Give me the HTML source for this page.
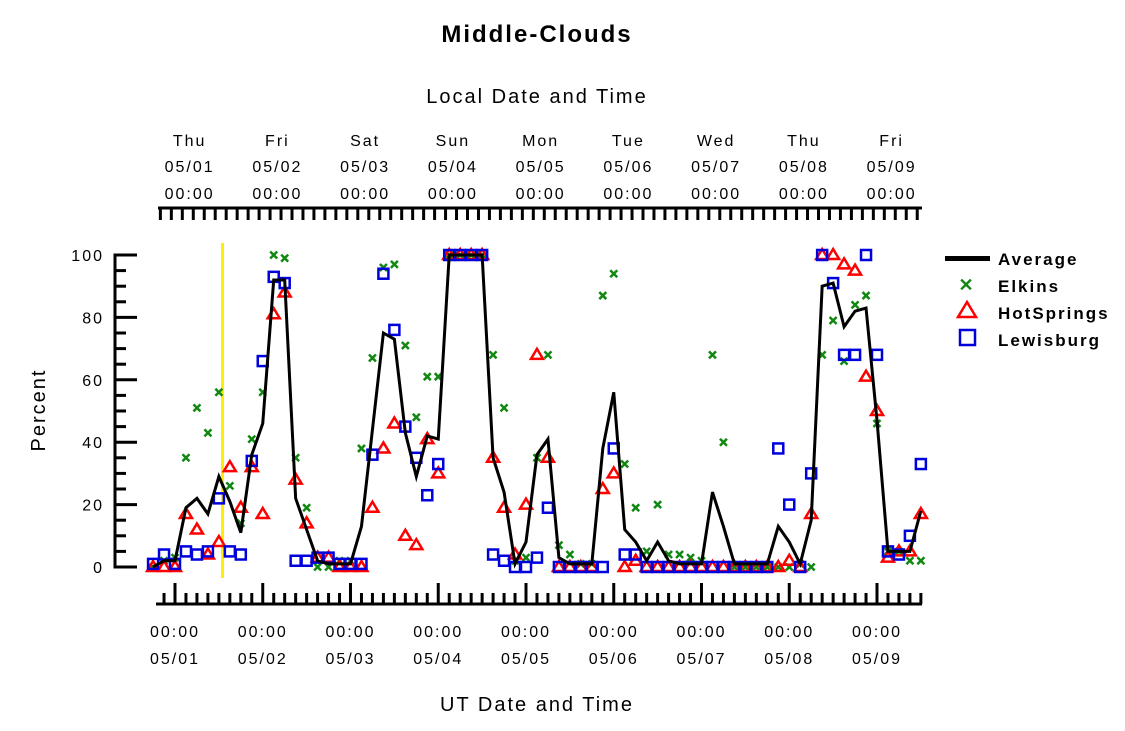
<!DOCTYPE html>
<html><head><meta charset="utf-8"><style>
body{margin:0;background:#fff;}
svg{display:block;font-family:"Liberation Sans",sans-serif;}
</style></head><body>
<svg id="chart" width="1125" height="731" viewBox="0 0 1125 731" xmlns="http://www.w3.org/2000/svg">
<text x="537" y="42" text-anchor="middle" font-size="24" font-weight="bold" letter-spacing="2">Middle-Clouds</text>
<text x="537" y="103" text-anchor="middle" font-size="20" letter-spacing="2">Local Date and Time</text>
<text x="537" y="711" text-anchor="middle" font-size="20" letter-spacing="2">UT Date and Time</text>
<text x="0" y="0" transform="translate(45,410) rotate(-90)" text-anchor="middle" font-size="20" letter-spacing="2">Percent</text>
<g id="axes"></g>
<g id="marks"></g>
<g font-size="17" font-weight="bold" letter-spacing="2">
<rect x="945" y="256" width="45" height="5" fill="#000"/>
<text x="998" y="265">Average</text>
<text x="967" y="291" text-anchor="middle" fill="#118811" font-size="18">✕</text>
<text x="998" y="292">Elkins</text>
<polygon points="967,302 976,317 958,317" fill="none" stroke="#ff0000" stroke-width="2.5"/>
<text x="998" y="319">HotSprings</text>
<rect x="960" y="330" width="15" height="15" fill="none" stroke="#0000dd" stroke-width="2.5"/>
<text x="998" y="346">Lewisburg</text>
</g>
</svg>
<script>
const stepStart = -2; // index of first sample, in 3-hour steps from 05/01 00 UT
const average = [0,2,2,19,22,17,29,21,11,36,46,92,92,22,12,2,1,1,1,13,44,75,73,43,29,42,41,100,100,100,100,35,24,1,8,36,41,3,1,1,1,38,56,12,8,2,8,2,1,1,1,24,13,1,1,1,1,13,8,1,15,90,91,77,82,83,47,5,5,5,18];
const elkins = [0,2,3,35,51,43,56,26,14,41,56,100,99,35,19,0,0,2,2,38,67,96,97,71,48,61,61,100,100,100,100,68,51,2,3,35,68,7,4,1,1,87,94,33,19,5,20,4,4,3,2,68,40,0,0,0,0,0,0,1,0,68,79,66,84,87,46,5,5,2,2];
const hotsprings = [0,0,0,17,12,4,8,32,19,32,17,81,88,28,14,3,3,0,0,0,19,38,46,10,7,41,30,100,100,100,100,35,19,4,20,68,35,0,0,0,0,25,30,0,2,0,0,0,0,0,0,0,0,0,0,0,0,0,2,0,17,100,100,97,95,61,50,3,5,5,17];
const lewisburg = [1,4,1,5,4,5,22,5,4,34,66,93,91,2,2,3,3,1,1,1,36,94,76,45,35,23,33,100,100,100,100,4,2,0,0,3,19,0,0,0,0,0,38,4,4,0,0,0,0,0,0,0,0,0,0,0,0,38,20,0,30,100,91,68,68,100,68,5,4,10,33];
const yTicks = [0,20,40,60,80,100];
const utDays = ["05/01","05/02","05/03","05/04","05/05","05/06","05/07","05/08","05/09"];
const localDays = ["Thu","Fri","Sat","Sun","Mon","Tue","Wed","Thu","Fri"];
const localDates = ["05/01","05/02","05/03","05/04","05/05","05/06","05/07","05/08","05/09"];
const markerHour = 13; // yellow marker line, hours from 05/01 00 UT

const NS="http://www.w3.org/2000/svg";
const X0=175, PXH=87.75/24, Y0=567, PXV=3.12;
function xh(h){return X0+h*PXH;}
function yv(v){return Y0-v*PXV;}
function xi(i){return xh((i+stepStart)*3);}
function mk(tag,attrs,parent){const e=document.createElementNS(NS,tag);for(const k in attrs)e.setAttribute(k,attrs[k]);parent.appendChild(e);return e;}
const axes=document.getElementById('axes'), marks=document.getElementById('marks');

// left axis
let el=mk('line',{x1:115,y1:yv(100)-1.5,x2:115,y2:yv(0)+1.5,stroke:'#000','stroke-width':3},axes);


for(let v=0;v<=100;v+=5){
  const major=v%20===0;
  el=mk('line',{x1:115,y1:yv(v),x2:major?137:126,y2:yv(v),stroke:'#000','stroke-width':3},axes);
  
  
}
yTicks.forEach(v=>{
  el=mk('text',{x:104,y:yv(v)+6,'text-anchor':'end','font-size':16,'letter-spacing':2},axes);
  el.textContent=v;
  
  
});
// bottom axis
el=mk('line',{x1:156,y1:604,x2:922,y2:604,stroke:'#000','stroke-width':3},axes);


for(let h=-6;h<=210;h+=3){
  const x=xh(h); if(x<157||x>922)continue;
  const major=h%24===0;
  el=mk('line',{x1:x,y1:major?583:593,x2:x,y2:604,stroke:'#000','stroke-width':3},axes);
  
  
}
utDays.forEach((d,i)=>{
  const x=xh(i*24);
  el=mk('text',{x:x,y:637,'text-anchor':'middle','font-size':16,'letter-spacing':2},axes);
  el.textContent='00:00';
  
  
  el=mk('text',{x:x,y:664,'text-anchor':'middle','font-size':16,'letter-spacing':2},axes);
  el.textContent=d;
  
  
});
// top axis
el=mk('line',{x1:158,y1:208,x2:922,y2:208,stroke:'#000','stroke-width':3},axes);


for(let h=-8;h<=212;h+=3){
  const x=xh(h+4)-0; if(x<157||x>922)continue;
  const major=h%24===0;
  el=mk('line',{x1:x,y1:208,x2:x,y2:major?228:220,stroke:'#000','stroke-width':3},axes);
  
  
}
localDays.forEach((d,i)=>{
  const x=xh(i*24+4);
  el=mk('text',{x:x,y:146,'text-anchor':'middle','font-size':16,'letter-spacing':2},axes);
  el.textContent=d;
  
  
  el=mk('text',{x:x,y:172,'text-anchor':'middle','font-size':16,'letter-spacing':2},axes);
  el.textContent=localDates[i];
  
  
  el=mk('text',{x:x,y:199,'text-anchor':'middle','font-size':16,'letter-spacing':2},axes);
  el.textContent='00:00';
  
  
});
// yellow marker
el=mk('line',{x1:xh(markerHour),y1:243,x2:xh(markerHour),y2:578,stroke:'#ffee00','stroke-width':3},marks);


// series
elkins.forEach((v,i)=>{
  if(v==null)return;
  const x=xi(i),y=yv(v);
  el=mk('path',{d:`M${x-3.5},${y-3.5}L${x+3.5},${y+3.5}M${x+3.5},${y-3.5}L${x-3.5},${y+3.5}`,stroke:'#118811','stroke-width':2.5},marks);
  
  
});
hotsprings.forEach((v,i)=>{
  if(v==null)return;
  const x=xi(i),y=yv(v);
  el=mk('polygon',{points:`${x},${y-6} ${x+6},${y+4} ${x-6},${y+4}`,fill:'none',stroke:'#ff0000','stroke-width':2.5},marks);
  
  
});
lewisburg.forEach((v,i)=>{
  if(v==null)return;
  const x=xi(i),y=yv(v);
  el=mk('rect',{x:x-5,y:y-5,width:10,height:10,fill:'none',stroke:'#0000dd','stroke-width':2.5},marks);
  
  
});
el=mk('polyline',{points:average.map((v,i)=>xi(i)+','+yv(v)).join(' '),fill:'none',stroke:'#000','stroke-width':3,'stroke-linejoin':'miter'},marks);


</script>
</body></html>
